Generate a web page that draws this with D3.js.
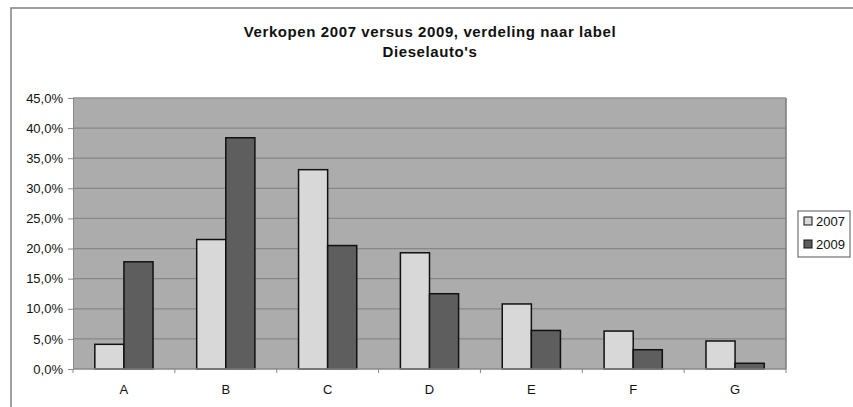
<!DOCTYPE html>
<html>
<head>
<meta charset="utf-8">
<script src="https://cdn.jsdelivr.net/npm/d3@7"></script>
<style>
  body { margin: 0; background: #fff; }
  svg { font-family: "Liberation Sans", Arial, sans-serif; }
</style>
</head>
<body>
<svg id="chart" width="853" height="407"></svg>
<script>
const categories = ["A", "B", "C", "D", "E", "F", "G"];
const seriesNames = ["2007", "2009"];
const values2007 = [4.1, 21.5, 33.1, 19.3, 10.8, 6.3, 4.65];
const values2009 = [17.8, 38.4, 20.5, 12.5, 6.4, 3.2, 0.95];
const yTicks = [0, 5, 10, 15, 20, 25, 30, 35, 40, 45];
const colors = ["#d8d8d8", "#5e5e5e"];

const svg = d3.select("#chart");

// outer chart frame
svg.append("rect")
  .attr("x", 11).attr("y", 8)
  .attr("width", 860).attr("height", 420)
  .attr("fill", "#fff")
  .attr("stroke", "#808080")
  .attr("stroke-width", 1.5);

// title, two lines
["Verkopen 2007 versus 2009, verdeling naar label", "Dieselauto's"].forEach((t, i) => {
  svg.append("text")
    .attr("x", 430).attr("y", 37 + i * 20)
    .attr("text-anchor", "middle")
    .attr("font-weight", "bold")
    .attr("font-size", 15)
    .attr("letter-spacing", 0.6)
    .attr("fill", "#111")
    .text(t);
});

const plot = { left: 73, right: 786, top: 98, bottom: 369 };

const x = d3.scaleBand()
  .domain(categories)
  .range([plot.left, plot.right]);

const y = d3.scaleLinear()
  .domain([0, 45])
  .range([plot.bottom, plot.top]);

// plot area background
svg.append("rect")
  .attr("x", plot.left).attr("y", plot.top)
  .attr("width", plot.right - plot.left)
  .attr("height", plot.bottom - plot.top)
  .attr("fill", "#acacac");

// gridlines
svg.append("g")
  .selectAll("line")
  .data(yTicks.filter(d => d > 0))
  .enter()
  .append("line")
  .attr("x1", plot.left).attr("x2", plot.right)
  .attr("y1", d => y(d)).attr("y2", d => y(d))
  .attr("stroke", "#878787")
  .attr("stroke-width", 1.2);

// plot border: right darker
svg.append("line")
  .attr("x1", plot.right).attr("x2", plot.right)
  .attr("y1", plot.top).attr("y2", plot.bottom)
  .attr("stroke", "#7a7a7a").attr("stroke-width", 1.5);
svg.append("line")
  .attr("x1", plot.left).attr("x2", plot.right)
  .attr("y1", plot.top).attr("y2", plot.top)
  .attr("stroke", "#9a9a9a").attr("stroke-width", 1);

// bars (gap width 150%)
const barW = x.bandwidth() / 3.5;
const data = categories.map((c, i) => ({ cat: c, vals: [values2007[i], values2009[i]] }));

const groups = svg.append("g")
  .selectAll("g")
  .data(data)
  .enter()
  .append("g")
  .attr("transform", d => `translate(${x(d.cat)},0)`);

groups.selectAll("rect")
  .data(d => d.vals.map((v, j) => ({ v, j })))
  .enter()
  .append("rect")
  .attr("x", d => barW * 0.75 + d.j * barW)
  .attr("y", d => y(d.v))
  .attr("width", barW)
  .attr("height", d => y(0) - y(d.v))
  .attr("fill", d => colors[d.j])
  .attr("stroke", "#111")
  .attr("stroke-width", 1.5);

// y axis
const yAxis = d3.axisLeft(y)
  .tickValues(yTicks)
  .tickSize(5)
  .tickPadding(5)
  .tickFormat(d => d3.format(".1f")(d).replace(".", ",") + "%");

svg.append("g")
  .attr("transform", `translate(${plot.left},0)`)
  .call(yAxis)
  .call(g => g.select(".domain").attr("stroke", "#888"))
  .call(g => g.selectAll(".tick line").attr("stroke", "#888"))
  .call(g => g.selectAll("text").attr("font-size", 13).attr("fill", "#111")
    .attr("font-family", "Liberation Sans, Arial, sans-serif"));

// x axis
svg.append("line")
  .attr("x1", plot.left).attr("x2", plot.right)
  .attr("y1", plot.bottom).attr("y2", plot.bottom)
  .attr("stroke", "#888").attr("stroke-width", 1.5);

svg.append("g")
  .selectAll("line")
  .data(d3.range(categories.length + 1))
  .enter()
  .append("line")
  .attr("x1", i => plot.left + i * x.bandwidth())
  .attr("x2", i => plot.left + i * x.bandwidth())
  .attr("y1", plot.bottom).attr("y2", plot.bottom + 4)
  .attr("stroke", "#888");

svg.append("g")
  .selectAll("text")
  .data(categories)
  .enter()
  .append("text")
  .attr("x", d => x(d) + x.bandwidth() / 2)
  .attr("y", 394)
  .attr("text-anchor", "middle")
  .attr("font-size", 13)
  .attr("fill", "#111")
  .text(d => d);

// legend
const legend = svg.append("g").attr("transform", "translate(798,211)");
legend.append("rect")
  .attr("width", 52).attr("height", 46)
  .attr("fill", "#fff")
  .attr("stroke", "#555").attr("stroke-width", 1);

seriesNames.forEach((s, i) => {
  legend.append("rect")
    .attr("x", 6).attr("y", 10 + i * 23 - 4)
    .attr("width", 8).attr("height", 8)
    .attr("fill", colors[i])
    .attr("stroke", "#111").attr("stroke-width", 1);
  legend.append("text")
    .attr("x", 18).attr("y", 10 + i * 23 + 5)
    .attr("font-size", 13)
    .attr("fill", "#111")
    .text(s);
});
</script>
</body>
</html>
